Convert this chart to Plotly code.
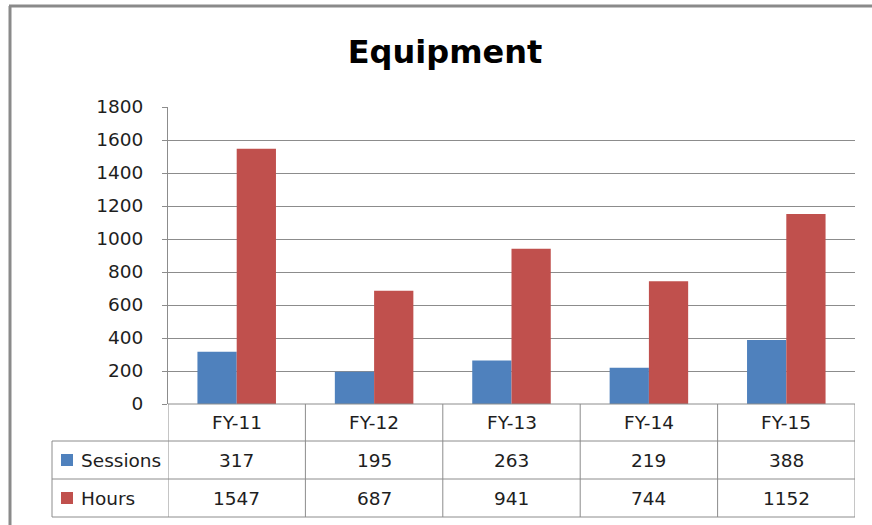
import plotly.graph_objects as go

# Chart data
categories = ["FY-11", "FY-12", "FY-13", "FY-14", "FY-15"]
sessions = [317, 195, 263, 219, 388]
hours = [1547, 687, 941, 744, 1152]
series_names = ["Sessions", "Hours"]
y_ticks = [0, 200, 400, 600, 800, 1000, 1200, 1400, 1600, 1800]

BLUE = "#4F81BD"
RED = "#C0504D"
GRID = "#8C8C8C"
FONT = "DejaVu Sans"

W, H = 872, 525
L, R, T, B = 168, 855, 107, 404  # plot area in pixels


def px(x):
    return (x - L) / (R - L)


def py(y):
    return (B - y) / (B - T)


fig = go.Figure()
fig.add_trace(go.Bar(x=categories, y=sessions, name=series_names[0],
                     marker=dict(color=BLUE, line=dict(width=0))))
fig.add_trace(go.Bar(x=categories, y=hours, name=series_names[1],
                     marker=dict(color=RED, line=dict(width=0))))

shapes = []
line = dict(color=GRID, width=1)

# data table: horizontal rules
row_y = [B, 441, 479, 517]
for i, yy in enumerate(row_y):
    x0 = L if i == 0 else 52
    shapes.append(dict(type="line", xref="paper", yref="paper",
                       x0=px(x0), x1=px(R), y0=py(yy), y1=py(yy), line=line))
# data table: vertical rules at category boundaries
n = len(categories)
for k in range(n + 1):
    shapes.append(dict(type="line", xref="x", yref="paper",
                       x0=k - 0.5, x1=k - 0.5, y0=py(row_y[0]), y1=py(row_y[-1]),
                       line=line))
shapes.append(dict(type="line", xref="paper", yref="paper",
                   x0=px(52), x1=px(52), y0=py(row_y[1]), y1=py(row_y[-1]), line=line))

# legend keys inside the table
for j, col in enumerate([BLUE, RED]):
    yc = (row_y[j + 1] + row_y[j + 2]) / 2
    shapes.append(dict(type="rect", xref="paper", yref="paper",
                       x0=px(61), x1=px(73), y0=py(yc - 6), y1=py(yc + 6),
                       fillcolor=col, line=dict(width=0)))

# outer chart frame
frame = dict(color="#8A8A8A", width=3)
shapes.append(dict(type="line", xref="paper", yref="paper",
                   x0=px(10), x1=px(10), y0=py(6), y1=py(H + 5), line=frame))
shapes.append(dict(type="line", xref="paper", yref="paper",
                   x0=px(9), x1=px(W + 5), y0=py(6), y1=py(6), line=frame))

annotations = []
tfont = dict(family=FONT, size=18.5, color="#1E1E1E")
# header row with category names
for c in categories:
    annotations.append(dict(x=c, y=py((row_y[0] + row_y[1]) / 2), xref="x", yref="paper",
                            text=c, showarrow=False, font=tfont,
                            xanchor="center", yanchor="middle"))
# value rows
for j, vals in enumerate([sessions, hours]):
    yc = (row_y[j + 1] + row_y[j + 2]) / 2
    annotations.append(dict(x=px(79), y=py(yc), xref="paper", yref="paper",
                            text=series_names[j], showarrow=False, font=tfont,
                            xanchor="left", yanchor="middle"))
    for c, v in zip(categories, vals):
        annotations.append(dict(x=c, y=py(yc), xref="x", yref="paper",
                                text=str(v), showarrow=False, font=tfont,
                                xanchor="center", yanchor="middle"))

fig.update_layout(
    width=W, height=H,
    margin=dict(l=L, r=W - R, t=T, b=H - B),
    paper_bgcolor="white", plot_bgcolor="white",
    showlegend=False,
    barmode="group", bargap=0.4286, bargroupgap=0,
    title=dict(text="<b>Equipment</b>", x=px(445), xanchor="center",
               xref="paper",
               y=1 - 52 / H, yanchor="middle",
               font=dict(family=FONT, size=32, color="black")),
    xaxis=dict(showticklabels=False, showgrid=False, zeroline=False,
               showline=False, ticks="", range=[-0.5, n - 0.5]),
    yaxis=dict(range=[0, 1800], tickvals=y_ticks, showgrid=True,
               gridcolor=GRID, gridwidth=1, zeroline=False,
               showline=True, linecolor=GRID, linewidth=1,
               ticks="outside", ticklen=5, tickcolor=GRID,
               ticklabelstandoff=15,
               tickfont=dict(family=FONT, size=18.5, color="#1E1E1E")),
    shapes=shapes, annotations=annotations,
)

fig.write_html("out.html")
